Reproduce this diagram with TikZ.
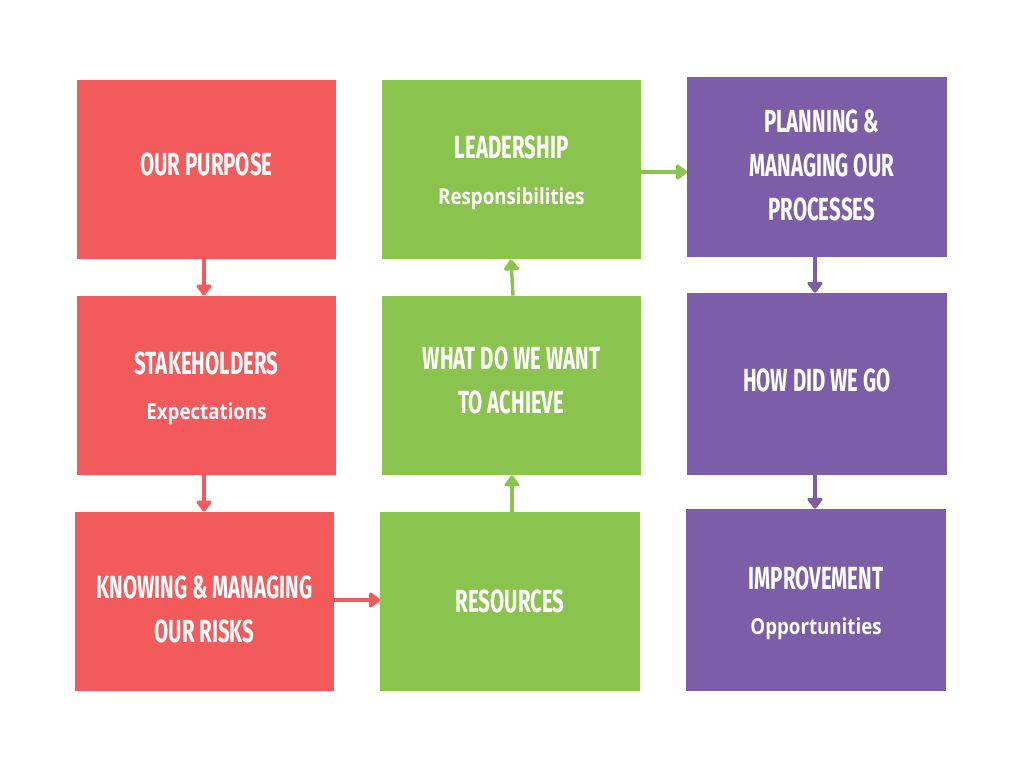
\documentclass[tikz,border=0pt]{standalone}
\usepackage{fontspec}
\usetikzlibrary{arrows.meta}
\newfontfamily\titlefont[FakeStretch=0.64]{Fira Sans}
\newfontfamily\subfont[FakeStretch=0.85]{Open Sans}
\newcommand\subline[1]{{\subfont\bfseries\fontsize{16.5}{20}\selectfont #1}}
\definecolor{boxred}{HTML}{F25A5B}
\definecolor{boxgreen}{HTML}{8BC34F}
\definecolor{boxpurple}{HTML}{7B5EA7}

\begin{document}
\begin{tikzpicture}[x=0.75pt,y=-0.75pt,
  box/.style={minimum width=194.5pt,minimum height=134.5pt,inner sep=0pt},
  txt/.style={inner sep=0pt,text=white,align=center,font=\titlefont\bfseries\fontsize{24}{33}\selectfont},
  flow/.style={line width=2.6pt,-{Triangle[width=13pt,length=9pt,round]}}]
\useasboundingbox (0,0) rectangle (1024,768);
\node[box,fill=boxred,label={[txt,yshift=3.5pt]center:OUR PURPOSE}] (purpose) at (206.5,169.5) {};
\node[box,fill=boxred,label={[txt,yshift=-2pt]center:STAKEHOLDERS\\[1pt] \subline{Expectations}}] (stake) at (206.5,385.5) {};
\node[box,fill=boxred,label={[txt,yshift=-6pt]center:KNOWING \& MANAGING\\ OUR RISKS}] (risks) at (204.5,601.5) {};
\node[box,fill=boxgreen,label={[txt]center:RESOURCES}] (resources) at (510,601.5) {};
\node[box,fill=boxgreen,label={[txt,yshift=3.5pt]center:WHAT DO WE WANT\\ TO ACHIEVE}] (achieve) at (511.5,385.5) {};
\node[box,fill=boxgreen,label={[txt,yshift=-2.5pt]center:LEADERSHIP\\[1pt] \subline{Responsibilities}}] (leader) at (511.5,169.5) {};
\node[box,fill=boxpurple,minimum height=135pt,label={[txt,xshift=3.5pt,yshift=1.5pt]center:PLANNING \&\\ MANAGING OUR\\ PROCESSES}] (planning) at (817,167) {};
\node[box,fill=boxpurple,minimum height=136.5pt,label={[txt,yshift=2.5pt]center:HOW DID WE GO}] (howgo) at (817,384) {};
\node[box,fill=boxpurple,minimum height=136.5pt,label={[txt,yshift=-2.5pt]center:IMPROVEMENT\\[1pt] \subline{Opportunities}}] (improve) at (816,600) {};
\draw[flow,boxred] (purpose.south -| 204,0) -- (stake.north -| 204,0);
\draw[flow,boxred] (stake.south -| 204,0) -- (risks.north -| 204,0);
\draw[flow,boxred] (risks.east |- 0,600) -- (resources.west |- 0,600);
\draw[flow,boxgreen] (resources.north -| 512,0) -- (achieve.south -| 512,0);
\draw[flow,boxgreen] (achieve.north -| 513,0) -- (leader.south -| 511,0);
\draw[flow,boxgreen] (leader.east |- 0,172) -- (planning.west |- 0,172);
\draw[flow,boxpurple] (planning.south -| 815,0) -- (howgo.north -| 815,0);
\draw[flow,boxpurple] (howgo.south -| 815,0) -- (improve.north -| 815,0);
\end{tikzpicture}
\end{document}
